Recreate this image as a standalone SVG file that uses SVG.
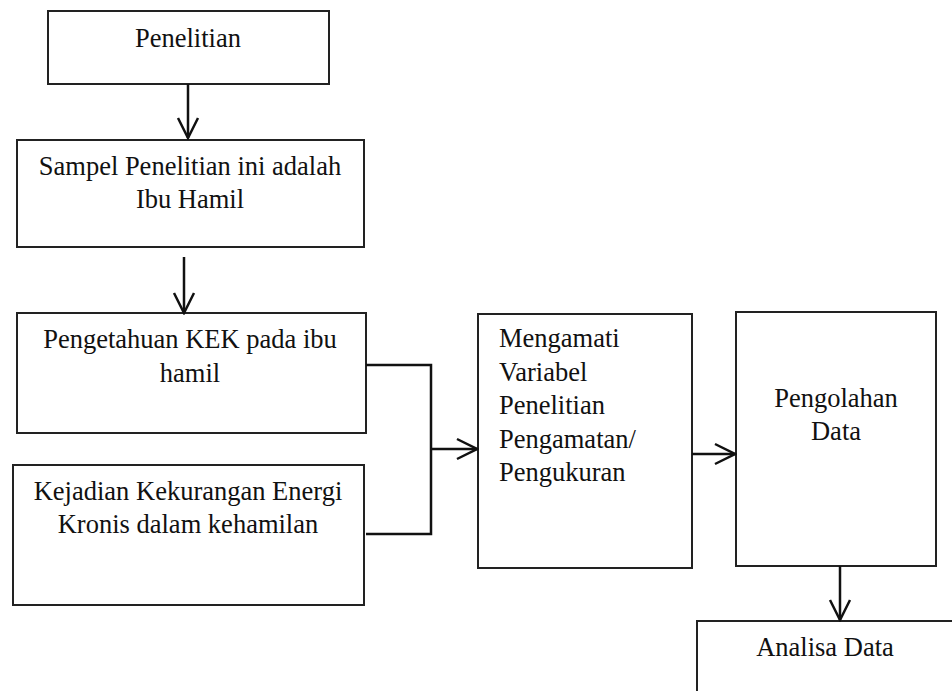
<svg xmlns="http://www.w3.org/2000/svg" width="952" height="691" viewBox="0 0 952 691">
<style>
.box{fill:#fff;stroke:#222;stroke-width:2}
.t{font-family:'Liberation Serif','Times New Roman',Times,serif;font-size:26.5px;fill:#111}
.c{text-anchor:middle}
.ln{fill:none;stroke:#111;stroke-width:2.5}
</style>
<defs>
<marker id="ah" markerUnits="userSpaceOnUse" viewBox="-22 -12 24 24" markerWidth="24" markerHeight="24" refX="0" refY="0" orient="auto">
<path d="M-20,-10 L0,0 L-20,10" fill="none" stroke="#111" stroke-width="2.5"/>
</marker>
</defs>
<rect width="952" height="691" fill="#fff"/>
<g id="n1"><rect class="box" x="48" y="11" width="281" height="73"/><text class="t c" x="188" y="47" font-family="Liberation Serif, serif">Penelitian</text></g>
<g id="n2"><rect class="box" x="17" y="140" width="347" height="107"/><text class="t c" x="190" y="175">Sampel Penelitian ini adalah</text><text class="t c" x="190" y="208">Ibu Hamil</text></g>
<g id="n3"><rect class="box" x="17" y="313" width="349" height="120"/><text class="t c" x="190" y="348">Pengetahuan KEK pada ibu</text><text class="t c" x="190" y="382">hamil</text></g>
<g id="n4"><rect class="box" x="13" y="465" width="351" height="140"/><text class="t c" x="188" y="500">Kejadian Kekurangan Energi</text><text class="t c" x="188" y="533">Kronis dalam kehamilan</text></g>
<g id="n5"><rect class="box" x="478" y="314" width="214" height="254"/>
<text class="t" x="499" y="347">Mengamati</text><text class="t" x="499" y="380.5">Variabel</text><text class="t" x="499" y="414">Penelitian</text><text class="t" x="499" y="447.5">Pengamatan/</text><text class="t" x="499" y="481">Pengukuran</text></g>
<g id="n6"><rect class="box" x="736" y="312" width="200" height="254"/><text class="t c" x="836" y="407">Pengolahan</text><text class="t c" x="836" y="440">Data</text></g>
<g id="n7"><rect class="box" x="697" y="621" width="300" height="100"/><text class="t c" x="825" y="656">Analisa Data</text></g>
<g id="connectors">
<path class="ln" d="M188,84 V138" marker-end="url(#ah)"/>
<path class="ln" d="M184,257 V313" marker-end="url(#ah)"/>
<path class="ln" d="M366,365 H431 V534 H366"/>
<path class="ln" d="M431,449 H477" marker-end="url(#ah)"/>
<path class="ln" d="M692,454 H735" marker-end="url(#ah)"/>
<path class="ln" d="M840,566 V620" marker-end="url(#ah)"/>
</g>
</svg>
